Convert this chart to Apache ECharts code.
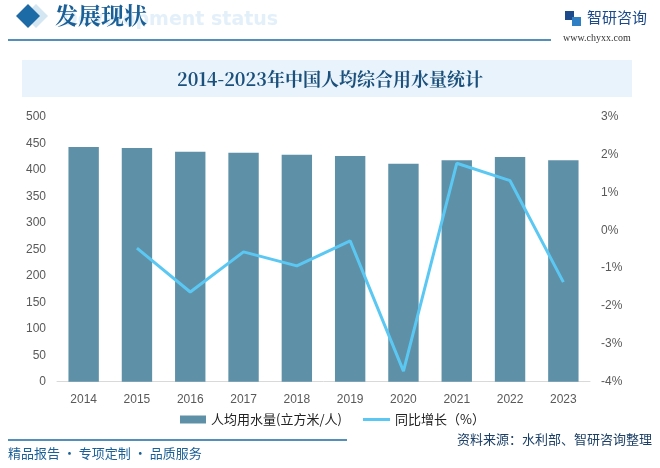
<!DOCTYPE html>
<html><head><meta charset="utf-8">
<script src="https://cdn.jsdelivr.net/npm/echarts@6/dist/echarts.min.js"></script>
<style>html,body{margin:0;padding:0;background:#fff}#c{width:660px;height:468px}</style>
</head><body><div id="c"></div>
<script>
var years = ['2014','2015','2016','2017','2018','2019','2020','2021','2022','2023'];
var waterUse = [443, 441, 434, 432, 428, 426, 411, 418, 424, 418];
var growth = [null, -0.47, -1.63, -0.57, -0.94, -0.28, -3.72, 1.77, 1.31, -1.37];
var leftTicks = [0, 500, 50];
var rightTicks = [-4, 3, 1];

var chart = echarts.init(document.getElementById('c'));
var blue = '#1a5f96';
var legendText = {color: '#222', fontSize: 13, fontFamily: 'Noto Sans CJK SC'};
chart.setOption({
  animation: false,
  textStyle: {fontFamily: 'Noto Sans CJK SC'},
  grid: {left: 57, right: 70, top: 116.7, bottom: 86.3},
  legend: [{
    top: 413, left: 180, padding: 0, itemWidth: 26, itemHeight: 8,
    textStyle: legendText,
    data: [{name: '人均用水量(立方米/人)', icon: 'rect'}]
  }, {
    top: 413, left: 363, padding: 0, itemWidth: 27, itemHeight: 3,
    textStyle: legendText,
    data: [{name: '同比增长（%）', icon: 'rect'}]
  }],
  xAxis: {
    type: 'category', data: years,
    axisLine: {lineStyle: {color: '#d9d9d9'}},
    axisTick: {show: false},
    axisLabel: {color: '#595959', fontSize: 12, margin: 12, fontFamily: 'Liberation Sans'}
  },
  yAxis: [{
    type: 'value', min: leftTicks[0], max: leftTicks[1], interval: leftTicks[2],
    splitLine: {show: false}, axisLine: {show: false}, axisTick: {show: false},
    axisLabel: {color: '#595959', fontSize: 12, margin: 11, fontFamily: 'Liberation Sans'}
  }, {
    type: 'value', min: rightTicks[0], max: rightTicks[1], interval: rightTicks[2],
    splitLine: {show: false}, axisLine: {show: false}, axisTick: {show: false},
    axisLabel: {color: '#595959', fontSize: 12, margin: 11, fontFamily: 'Liberation Sans', formatter: '{value}%'}
  }],
  series: [{
    name: '人均用水量(立方米/人)', type: 'bar', data: waterUse,
    barCategoryGap: '43%', itemStyle: {color: '#5e90a7'}
  }, {
    name: '同比增长（%）', type: 'line', yAxisIndex: 1, data: growth,
    showSymbol: false, symbol: 'none', lineStyle: {color: '#5bc8f3', width: 3}, itemStyle: {color: '#5bc8f3'}
  }],
  graphic: [
    {type: 'text', left: 62, top: 11, style: {text: 'Development status', fill: '#e3f0fa', font: 'bold 19px "DejaVu Sans"'}, z: 0},
    {type: 'polygon', shape: {points: [[36,4],[48,16],[36,28],[24,16]]}, style: {fill: '#d5e6f3'}, z: 1},
    {type: 'polygon', shape: {points: [[28,4],[40,16],[28,28],[16,16]]}, style: {fill: '#1c6aa6'}, z: 2},
    {type: 'text', left: 55, top: 4, style: {text: '发展现状', fill: blue, font: 'bold 23px "Noto Serif CJK SC", "Noto Sans CJK SC"'}, z: 3},
    {type: 'line', shape: {x1: 8, y1: 40, x2: 551, y2: 40}, style: {stroke: '#1a6aa0', lineWidth: 1.5}},
    {type: 'rect', shape: {x: 565, y: 11, width: 9, height: 9}, style: {fill: '#1c4a8a'}},
    {type: 'rect', shape: {x: 572, y: 17, width: 9, height: 9}, style: {fill: '#2e7fc4'}},
    {type: 'text', left: 587, top: 10, style: {text: '智研咨询', fill: '#1c4a8a', font: '15px "Noto Sans CJK SC"'}},
    {type: 'text', left: 563, top: 33, style: {text: 'www.chyxx.com', fill: '#333', font: '10px "Liberation Serif"'}},
    {type: 'rect', shape: {x: 22, y: 60, width: 610, height: 37}, style: {fill: '#e8f3fb'}},
    {type: 'text', x: 330, y: 79, style: {text: '2014-2023年中国人均综合用水量统计', fill: '#1b4f7c', font: 'bold 18px "Noto Serif CJK SC", "Liberation Serif", "Noto Sans CJK SC"', align: 'center', verticalAlign: 'middle'}},
    {type: 'line', shape: {x1: 8, y1: 440, x2: 347, y2: 440}, style: {stroke: '#1a6aa0', lineWidth: 1.5}},
    {type: 'text', left: 8, top: 447, style: {text: '精品报告 · 专项定制 · 品质服务', fill: '#1a5f96', font: '13px "Noto Sans CJK SC"'}},
    {type: 'text', right: 8, top: 433, style: {text: '资料来源：水利部、智研咨询整理', fill: '#1b3f66', font: '13px "Noto Sans CJK SC"'}}
  ]
});
</script></body></html>
